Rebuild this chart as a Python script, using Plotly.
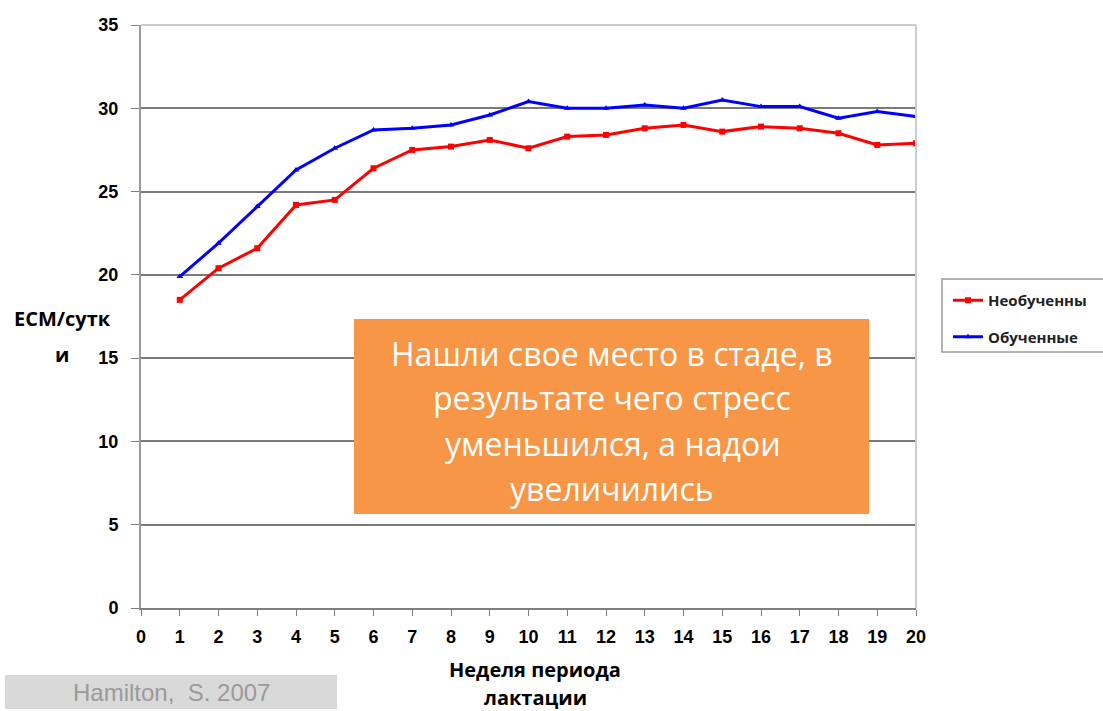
import plotly.graph_objects as go

weeks = list(range(1, 21))
untrained = [18.5, 20.4, 21.6, 24.2, 24.5, 26.4, 27.5, 27.7, 28.1, 27.6,
             28.3, 28.4, 28.8, 29.0, 28.6, 28.9, 28.8, 28.5, 27.8, 27.9]
trained = [19.9, 21.9, 24.1, 26.3, 27.6, 28.7, 28.8, 29.0, 29.6, 30.4,
           30.0, 30.0, 30.2, 30.0, 30.5, 30.1, 30.1, 29.4, 29.8, 29.5]
series_names = ["Необученны", "Обученные"]
x_ticks = list(range(0, 21))
y_ticks = list(range(0, 36, 5))
callout_lines = ["Нашли свое место в стаде, в", "результате чего стресс",
                 "уменьшился, а надои", "увеличились"]

fig = go.Figure()
fig.add_trace(go.Scatter(x=weeks, y=untrained, name=series_names[0], mode="lines+markers",
                         legendgroup="a",
                         line=dict(color="#ff0000", width=3),
                         marker=dict(symbol="square", size=6, color="#ff0000")))
fig.add_trace(go.Scatter(x=weeks, y=trained, name=series_names[1], mode="lines+markers",
                         legendgroup="b",
                         line=dict(color="#0000ff", width=3),
                         marker=dict(symbol="triangle-up", size=6, color="#0000ff")))

L, R, T, B = 141, 187, 25, 103
PW = 1103 - L - R
PH = 711 - T - B

def px(xp):
    return (xp - L) / PW

def py(yp):
    return (711 - B - yp) / PH

fig.update_layout(
    width=1103, height=711,
    margin=dict(l=L, r=R, t=T, b=B, autoexpand=False),
    paper_bgcolor="white", plot_bgcolor="white",
    font=dict(family="Arial, Liberation Sans", color="black"),
    showlegend=True,
    legend=dict(x=px(948), y=py(284), xanchor="left", yanchor="top",
                font=dict(family="Open Sans", size=15, color="#222", weight="bold"),
                bgcolor="rgba(0,0,0,0)", borderwidth=0, tracegroupgap=14,
                itemwidth=30),
    xaxis=dict(range=[0, 20], tickvals=x_ticks, ticktext=[str(v) for v in x_ticks],
               showgrid=False, zeroline=False, showline=True, linecolor="#808080",
               linewidth=2, ticks="outside", ticklen=6, tickcolor="#808080",
               ticklabelstandoff=5,
               tickfont=dict(family="Arial", size=18, color="black", weight="bold"),
               mirror=False),
    yaxis=dict(range=[0, 35], tickvals=y_ticks, showgrid=True, gridcolor="#7a7a7a",
               gridwidth=1.5, zeroline=False, showline=True, linecolor="#9a9a9a",
               linewidth=2, ticks="outside", ticklen=8, tickcolor="#808080",
               ticklabelstandoff=9,
               tickfont=dict(family="Arial", size=18, color="black", weight="bold")),
)

# plot-area frame (top & right light gray)
fig.add_shape(type="line", xref="paper", yref="paper", x0=0, x1=1, y0=1, y1=1,
              line=dict(color="#cccccc", width=2))
fig.add_shape(type="line", xref="paper", yref="paper", x0=1, x1=1, y0=0, y1=1,
              line=dict(color="#cccccc", width=2))

# legend box (clipped at the right edge)
fig.add_shape(type="rect", xref="paper", yref="paper", x0=px(942), x1=px(1120),
              y0=py(352), y1=py(279), line=dict(color="#9a9a9a", width=1.5),
              fillcolor="rgba(0,0,0,0)")

# orange callout
fig.add_shape(type="rect", xref="paper", yref="paper", x0=px(354), x1=px(869),
              y0=py(514), y1=py(319), line=dict(width=0), fillcolor="#f79646")
for i, line in enumerate(callout_lines):
    fig.add_annotation(xref="paper", yref="paper", x=px(612), y=py(353 + 45 * i),
                       showarrow=False, text=line,
                       font=dict(family="Open Sans", size=32, color="white"),
                       xanchor="center", yanchor="middle")

# y axis title
for txt, yy in [("ECM/сутк", 318), ("и", 354)]:
    fig.add_annotation(xref="paper", yref="paper", x=px(62), y=py(yy), showarrow=False,
                       text=txt, xanchor="center", yanchor="middle",
                       font=dict(family="Open Sans", size=20, color="black", weight="bold"))

# x axis title
for txt, yy in [("Неделя периода", 669), ("лактации", 697)]:
    fig.add_annotation(xref="paper", yref="paper", x=px(535), y=py(yy), showarrow=False,
                       text=txt, xanchor="center", yanchor="middle",
                       font=dict(family="Open Sans", size=20, color="black", weight="bold"))

# source box
fig.add_shape(type="rect", xref="paper", yref="paper", x0=px(5), x1=px(337),
              y0=py(709), y1=py(675), line=dict(width=0), fillcolor="#d9d9d9")
fig.add_annotation(xref="paper", yref="paper", x=px(171), y=py(692), showarrow=False,
                   text="Hamilton,  S. 2007", xanchor="center", yanchor="middle",
                   font=dict(family="Arial", size=24, color="#9a9a9a"))

fig.write_html("out.html", config={"displayModeBar": False},
               post_script="document.body.style.margin='0';document.body.style.overflow='hidden';")
